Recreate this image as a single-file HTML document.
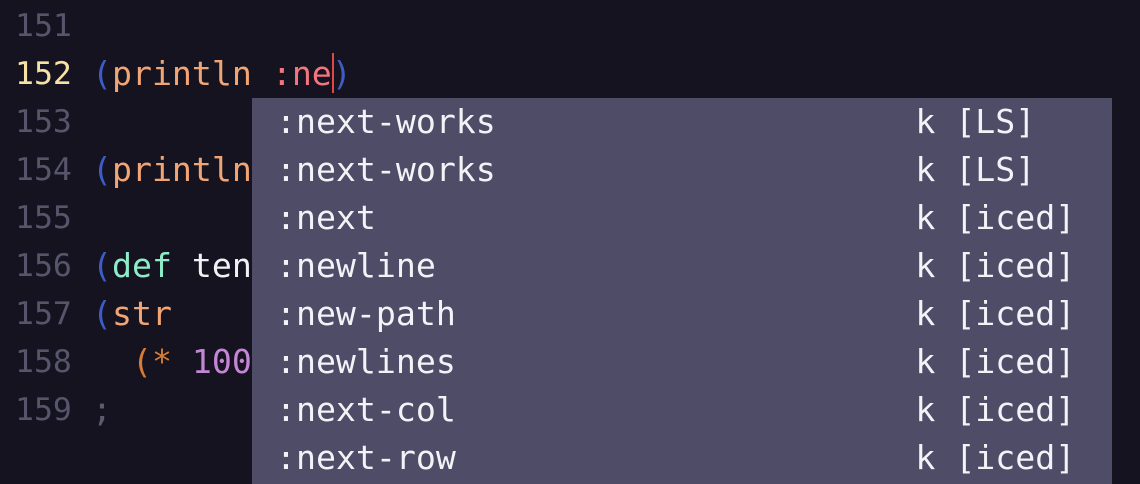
<!DOCTYPE html>
<html><head><meta charset="utf-8"><style>
html,body{margin:0;padding:0;width:1140px;height:484px;overflow:hidden;background:#14131f;}
.code{position:absolute;left:92px;top:2px;font-family:"DejaVu Sans Mono","Liberation Mono",monospace;font-size:33.2px;line-height:48px;white-space:pre;color:#f0f0f5;}
.gut{position:absolute;left:15px;top:2px;font-family:"DejaVu Sans Mono","Liberation Mono",monospace;font-size:31.5px;line-height:48px;white-space:pre;color:#56556c;}
.cur{color:#f8e1a6}
.p{color:#3f5cc4}.o{color:#f2a574}.k{color:#f27580}.d{color:#8eecc8}.o2{color:#d87c34}.n{color:#c485d6}.g{color:#5c5b70}
.caret{display:inline-block;width:2px;height:40px;background:#e04848;vertical-align:middle;margin-right:-2px;position:relative;top:-3px}
.pop{position:absolute;left:252px;top:98px;width:860px;height:386px;background:#4e4c67;}
.pop .code{left:4px;top:0;color:#f2f2f7}
</style></head><body>
<div class="gut">151
<span class="cur">152</span>
153
154
155
156
157
158
159</div>
<div class="code">
<span class="p">(</span><span class="o">println</span> <span class="k">:ne</span><span class="caret"></span><span class="p">)</span>

<span class="p">(</span><span class="o">println</span>

<span class="p">(</span><span class="d">def</span> ten
<span class="p">(</span><span class="o">str</span>
  <span class="o2">(*</span> <span class="n">100</span>
<span class="g">;</span></div>
<div class="pop"><div class="code"> :next-works                     k [LS]
 :next-works                     k [LS]
 :next                           k [iced]
 :newline                        k [iced]
 :new-path                       k [iced]
 :newlines                       k [iced]
 :next-col                       k [iced]
 :next-row                       k [iced]</div></div>
</body></html>
